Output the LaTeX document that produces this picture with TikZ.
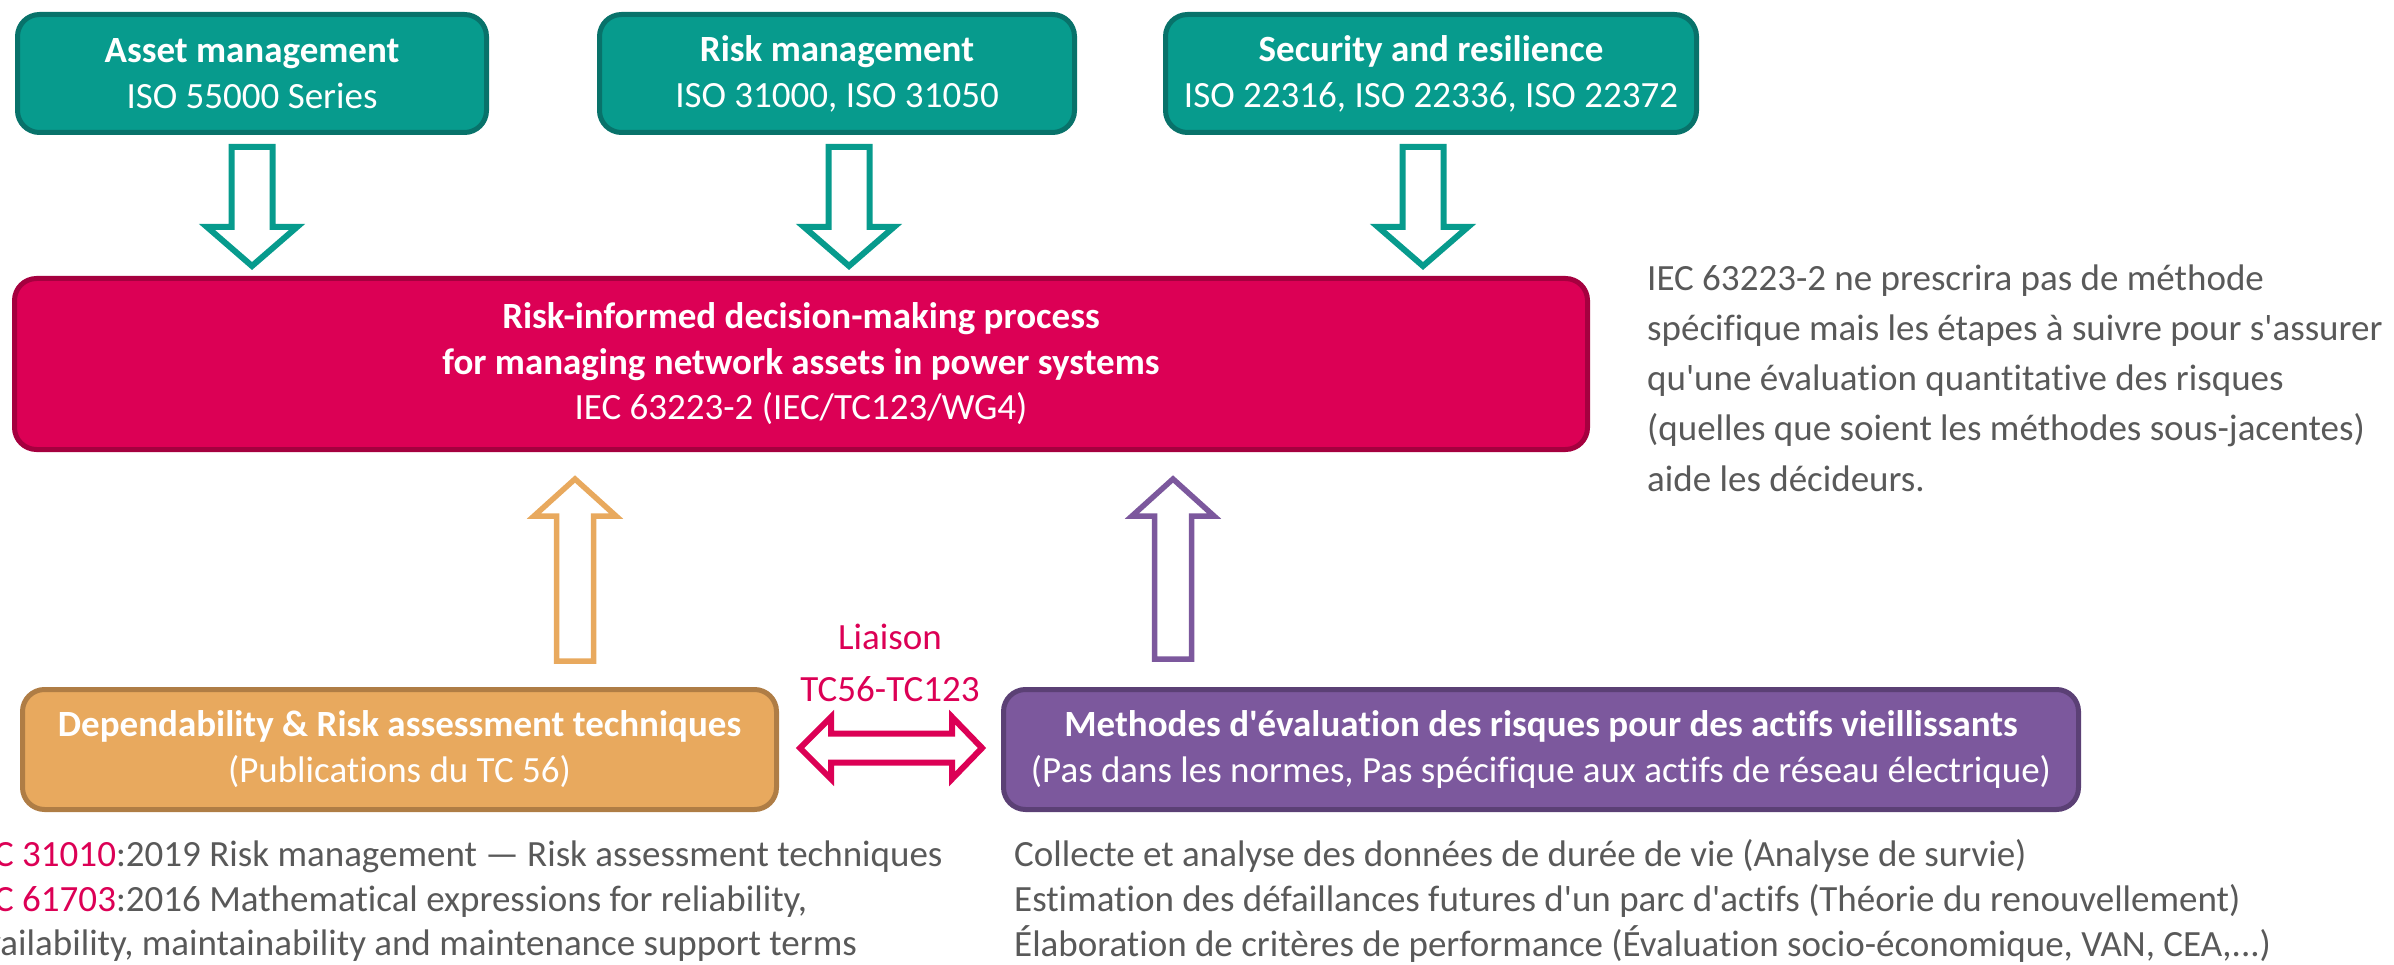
\documentclass[tikz,border=0pt]{standalone}
\usepackage{fontspec}
\setmainfont{Carlito}[Ligatures={TeXOff,CommonOff}]

\definecolor{tealfill}{HTML}{079B8D}
\definecolor{tealline}{HTML}{08726A}
\definecolor{magfill}{HTML}{DC0055}
\definecolor{magline}{HTML}{A5003F}
\definecolor{orfill}{HTML}{E8A95E}
\definecolor{orline}{HTML}{AF7D45}
\definecolor{purfill}{HTML}{7C589D}
\definecolor{purline}{HTML}{5B4075}
\definecolor{greytext}{HTML}{595959}

\tikzset{
  box/.style={draw, rounded corners=22pt, line width=5pt, inner sep=0pt,
    align=center, text=white, font=\fontsize{37}{46}\selectfont},
  stdbox/.style={box, fill=tealfill, draw=tealline, minimum height=118pt},
  plain/.style={anchor=base west, inner sep=0pt, text=greytext,
    font=\fontsize{37}{46}\selectfont},
  hollow/.style={fill=white, line width=6pt, line join=miter},
}

% hollow block arrows: colour, x, tail y, tip y
\newcommand{\downblock}[4]{%
  \draw[hollow, draw=#1] (#2-20.5,#3) -- (#2-20.5,#4-39) -- (#2-45,#4-39) -- (#2,#4)
    -- (#2+45,#4-39) -- (#2+20.5,#4-39) -- (#2+20.5,#3) -- cycle;}
\newcommand{\upblock}[4]{%
  \draw[hollow, line width=5.5pt, draw=#1] (#2-18.5,#3) -- (#2-18.5,#4+37) -- (#2-41,#4+37) -- (#2,#4)
    -- (#2+41,#4+37) -- (#2+18.5,#4+37) -- (#2+18.5,#3) -- cycle;}

\begin{document}
\begin{tikzpicture}[x=1pt, y=-1pt]
  \useasboundingbox (0,0) rectangle (2394,965);
  \clip (0,0) rectangle (2394,965);

  % Normes en entree
  \node[stdbox, minimum width=469pt] (asset) at (252,73.5)
    {{\bfseries Asset management}\\ISO 55000 Series};
  \node[stdbox, minimum width=475pt] (riskm) at (837,73.5)
    {{\bfseries Risk management}\\ISO 31000, ISO 31050};
  \node[stdbox, minimum width=531pt] (secu) at (1431,73.5)
    {{\bfseries Security and resilience}\\ISO 22316, ISO 22336, ISO 22372};

  % Processus
  \node[box, fill=magfill, draw=magline, minimum width=1573pt, minimum height=171pt,
    font=\fontsize{37}{45.5}\selectfont] (rid) at (801,364)
    {{\bfseries Risk-informed decision-making process}\\
     {\bfseries for managing network assets in power systems}\\
     IEC 63223-2 (IEC/TC123/WG4)};

  \node[box, fill=orfill, draw=orline, minimum width=754pt, minimum height=120pt] (dep) at (399.5,749.5)
    {{\bfseries Dependability \& Risk assessment techniques}\\(Publications du TC 56)};
  \node[box, fill=purfill, draw=purline, minimum width=1075pt, minimum height=120pt] (meth) at (1541,749.5)
    {{\bfseries Methodes d'évaluation des risques pour des actifs vieillissants}\\
     (Pas dans les normes, Pas spécifique aux actifs de réseau électrique)};

  \node[align=center, inner sep=0pt, text=magfill, font=\fontsize{37}{52}\selectfont] (liaison) at (890,663)
    {Liaison\\TC56-TC123};

  % Fleches
  \downblock{tealfill}{252}{147}{266}
  \downblock{tealfill}{849}{147}{266}
  \downblock{tealfill}{1423}{147}{266}
  \upblock{orfill}{575}{661}{479}
  \upblock{purfill}{1173}{659}{479}
  \draw[hollow, draw=magfill] (800,748) -- (831,717) -- (831,733.5) -- (952,733.5) -- (952,717)
    -- (982,748) -- (952,779) -- (952,762.5) -- (831,762.5) -- (831,779) -- cycle;

  % Textes
  \node[plain] (note1) at (1647,291) {IEC 63223-2 ne prescrira pas de méthode};
  \node[plain] (note2) at (1647,341) {spécifique mais les étapes à suivre pour s'assurer};
  \node[plain] (note3) at (1647,391) {qu'une évaluation quantitative des risques};
  \node[plain] (note4) at (1647,441) {(quelles que soient les méthodes sous-jacentes)};
  \node[plain] (note5) at (1647,491) {aide les décideurs.};

  \node[plain] (pub1) at (-33,866) {\textcolor{magfill}{IEC 31010}:2019 Risk management — Risk assessment techniques};
  \node[plain] (pub2) at (-33,911) {\textcolor{magfill}{IEC 61703}:2016 Mathematical expressions for reliability,};
  \node[plain] (pub3) at (-33,955) {availability, maintainability and maintenance support terms};

  \node[plain] (met1) at (1014,866) {Collecte et analyse des données de durée de vie (Analyse de survie)};
  \node[plain] (met2) at (1014,911) {Estimation des défaillances futures d'un parc d'actifs (Théorie du renouvellement)};
  \node[plain] (met3) at (1014,956) {Élaboration de critères de performance (Évaluation socio-économique, VAN, CEA,...)};
\end{tikzpicture}
\end{document}
